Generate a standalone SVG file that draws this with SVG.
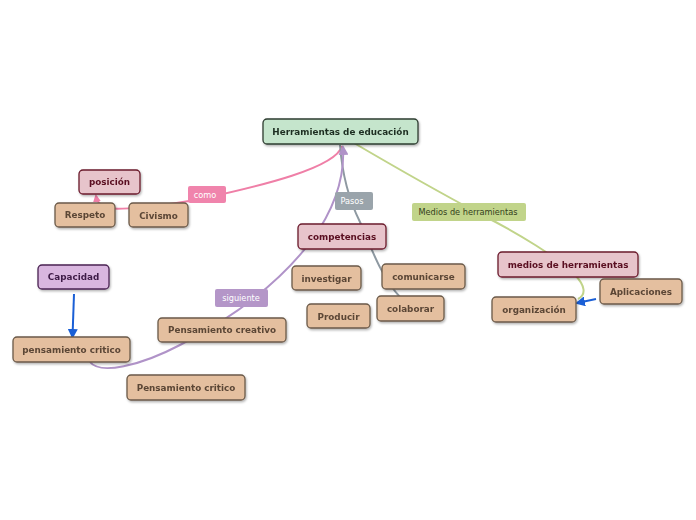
<svg xmlns="http://www.w3.org/2000/svg" width="696" height="520" viewBox="0 0 696 520">
<style>
.n rect{stroke-width:1.3}
.t{font-family:"DejaVu Sans",sans-serif;font-weight:bold;font-size:8.8px;text-anchor:middle}
.root rect{fill:#c5e5cc;stroke:#2e3d31}
.root text{fill:#1f2f22}
.pk rect{fill:#e7c4cb;stroke:#6b1a2c}
.pk text{fill:#5a1020}
.br rect{fill:#e4bf9f;stroke:#6b5a49}
.br text{fill:#5b4636}
.pu rect{fill:#d9b6df;stroke:#4a2352}
.pu text{fill:#3e1a46}
.lb{font-family:"DejaVu Sans",sans-serif;font-size:8.2px;text-anchor:middle}
.c{fill:none;stroke-width:2}
</style>
<defs>
<marker id="ap" markerWidth="8" markerHeight="8" refX="6" refY="4" orient="auto" markerUnits="userSpaceOnUse"><path d="M0,0 L8,4 L0,8 z" fill="#ef7fa7"/></marker>
<marker id="au" markerWidth="10" markerHeight="10" refX="8" refY="5" orient="auto" markerUnits="userSpaceOnUse"><path d="M0,0 L10,5 L0,10 z" fill="#b093c8"/></marker>
<marker id="ab" markerWidth="10" markerHeight="10" refX="8" refY="5" orient="auto" markerUnits="userSpaceOnUse"><path d="M0,0 L10,5 L0,10 z" fill="#1a5fd6"/></marker>
<filter id="sh" x="-10%" y="-20%" width="130%" height="160%"><feDropShadow dx="1" dy="1.5" stdDeviation="0.8" flood-color="#000" flood-opacity="0.3"/></filter>
</defs>
<rect width="696" height="520" fill="#fff"/>
<g id="connectors">
<path class="c" stroke="#ef7fa7" d="M342,146 C336,168 260,186 205,198 C160,207 118,210 108,208 C100,206 97,202 96,196" marker-end="url(#ap)"/>
<path class="c" stroke="#8e99a1" d="M340,145 C342,172 348,198 360,222 C372,250 382,278 400,297"/>
<path class="c" stroke="#b093c8" d="M90,362 C100,375 140,366 180,345 C240,314 282,280 312,240 C332,212 345,180 343,147" marker-end="url(#au)"/>
<path class="c" stroke="#c1d48a" d="M354,143 C400,170 450,198 480,214 C520,234 558,258 574,274 C586,286 586,295 578,299"/>
<path class="c" stroke="#1a5fd6" d="M74,294 L72.5,337" marker-end="url(#ab)"/>
<path class="c" stroke="#1a5fd6" d="M596,299 L577,303" marker-end="url(#ab)"/>
<g id="lbl-como"><rect x="188" y="186" width="38" height="17" rx="2" fill="#f084ac"/><text class="lb" x="205" y="198" fill="#fff">como</text></g>
<g id="lbl-pasos"><rect x="335" y="192" width="38" height="18" rx="2" fill="#9aa4ab"/><text class="lb" x="352" y="204" fill="#fff">Pasos</text></g>
<g id="lbl-medios"><rect x="412" y="203" width="114" height="18" rx="2" fill="#c1d48a"/><text class="lb" x="468" y="215" fill="#33401a">Medios de herramientas</text></g>
<g id="lbl-siguiente"><rect x="215" y="289" width="53" height="18" rx="2" fill="#b496c8"/><text class="lb" x="241" y="301" fill="#fff">siguiente</text></g>
</g>
<g filter="url(#sh)">
<g id="n-root" class="n root"><rect x="263" y="119" width="155" height="25" rx="4"/><text class="t" x="340.5" y="135">Herramientas de educación</text></g>
<g id="n-posicion" class="n pk"><rect x="79" y="170" width="61" height="24" rx="4"/><text class="t" x="109.5" y="185">posición</text></g>
<g id="n-respeto" class="n br"><rect x="55" y="203" width="60" height="24" rx="4"/><text class="t" x="85" y="218">Respeto</text></g>
<g id="n-civismo" class="n br"><rect x="129" y="203" width="59" height="24" rx="4"/><text class="t" x="158.5" y="219">Civismo</text></g>
<g id="n-competencias" class="n pk"><rect x="298" y="224" width="88" height="25" rx="4"/><text class="t" x="342" y="240">competencias</text></g>
<g id="n-capacidad" class="n pu"><rect x="38" y="265" width="71" height="24" rx="4"/><text class="t" x="73.5" y="280">Capacidad</text></g>
<g id="n-investigar" class="n br"><rect x="292" y="266" width="69" height="24" rx="4"/><text class="t" x="326.5" y="282">investigar</text></g>
<g id="n-comunicarse" class="n br"><rect x="382" y="264" width="83" height="25" rx="4"/><text class="t" x="423.5" y="280">comunicarse</text></g>
<g id="n-colaborar" class="n br"><rect x="377" y="296" width="67" height="25" rx="4"/><text class="t" x="410.5" y="312">colaborar</text></g>
<g id="n-producir" class="n br"><rect x="307" y="304" width="63" height="24" rx="4"/><text class="t" x="338.5" y="320">Producir</text></g>
<g id="n-medios" class="n pk"><rect x="498" y="252" width="140" height="25" rx="4"/><text class="t" x="568" y="268">medios de herramientas</text></g>
<g id="n-aplicaciones" class="n br"><rect x="600" y="279" width="82" height="25" rx="4"/><text class="t" x="641" y="295">Aplicaciones</text></g>
<g id="n-organizacion" class="n br"><rect x="492" y="297" width="84" height="25" rx="4"/><text class="t" x="534" y="313">organización</text></g>
<g id="n-creativo" class="n br"><rect x="158" y="318" width="128" height="24" rx="4"/><text class="t" x="222" y="333">Pensamiento creativo</text></g>
<g id="n-critico1" class="n br"><rect x="13" y="337" width="117" height="25" rx="4"/><text class="t" x="71.5" y="353">pensamiento critico</text></g>
<g id="n-critico2" class="n br"><rect x="127" y="375" width="118" height="25" rx="4"/><text class="t" x="186" y="391">Pensamiento critico</text></g>
</g>
</svg>
